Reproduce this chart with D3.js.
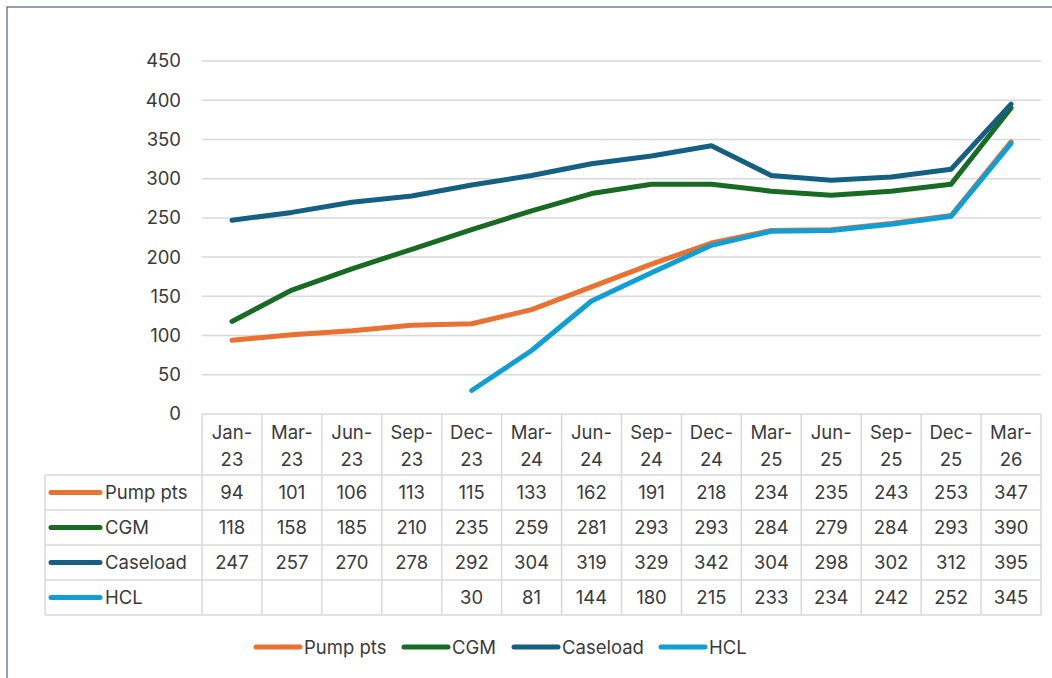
<!DOCTYPE html>
<html><head><meta charset="utf-8">
<script src="https://cdn.jsdelivr.net/npm/d3@7"></script>
<style>body{margin:0;background:#fff}svg{display:block}text{font-family:Inter,"Open Sans",sans-serif;fill:#3a3a3a}</style>
</head><body><svg id="c" width="1052" height="678"></svg>
<script>
const categories = ["Jan-23","Mar-23","Jun-23","Sep-23","Dec-23","Mar-24","Jun-24","Sep-24","Dec-24","Mar-25","Jun-25","Sep-25","Dec-25","Mar-26"];
const pumpPts = [94,101,106,113,115,133,162,191,218,234,235,243,253,347];
const cgm = [118,158,185,210,235,259,281,293,293,284,279,284,293,390];
const caseload = [247,257,270,278,292,304,319,329,342,304,298,302,312,395];
const hcl = [null,null,null,null,30,81,144,180,215,233,234,242,252,345];
const seriesNames = ["Pump pts","CGM","Caseload","HCL"];
const seriesColors = ["#E97132","#196B24","#156082","#0F9ED5"];
const yTicks = [0,50,100,150,200,250,300,350,400,450];
const series = [pumpPts,cgm,caseload,hcl].map((v,i)=>({name:seriesNames[i],color:seriesColors[i],values:v}));

const FS = "18.5px";
const svg = d3.select("#c");
const pLeft=202, pRight=1041, pTop=61, pBottom=414;
const x = d3.scaleBand().domain(categories).range([pLeft,pRight]);
const y = d3.scaleLinear().domain([0,450]).range([pBottom,pTop]);

svg.append("rect").attr("x",7).attr("y",7).attr("width",1200).attr("height",800)
  .attr("fill","none").attr("stroke","#5b6f8a").attr("stroke-width",1.3);

svg.append("g").selectAll("line").data(yTicks.filter(d=>d>0)).join("line")
  .attr("x1",pLeft).attr("x2",pRight).attr("y1",d=>y(d)).attr("y2",d=>y(d))
  .attr("stroke","#d9d9d9").attr("stroke-width",1.5);

const yAxis = d3.axisLeft(y).tickValues(yTicks).tickSize(0).tickPadding(21);
const ga = svg.append("g").attr("transform",`translate(${pLeft},0)`).call(yAxis);
ga.select(".domain").remove();
ga.selectAll("text").style("font-size",FS).attr("fill","#3a3a3a").style("font-family","Inter,'Open Sans',sans-serif");

const rowH = 35, headTop = pBottom, headH = 61, keyLeft = 45;
const tg = svg.append("g");
const gridC = "#d9d9d9";
const nRows = series.length;
const tableBottom = headTop + headH + nRows*rowH;
tg.append("line").attr("x1",pLeft).attr("x2",pRight).attr("y1",headTop).attr("y2",headTop).attr("stroke",gridC).attr("stroke-width",1.5);
for(let r=0;r<=nRows;r++){
  const yy = headTop+headH+r*rowH;
  tg.append("line").attr("x1",keyLeft).attr("x2",pRight).attr("y1",yy).attr("y2",yy).attr("stroke",gridC).attr("stroke-width",1.5);
}
tg.append("line").attr("x1",keyLeft).attr("x2",keyLeft).attr("y1",headTop+headH).attr("y2",tableBottom).attr("stroke",gridC).attr("stroke-width",1.5);
categories.forEach(c=>{
  const xx = x(c);
  tg.append("line").attr("x1",xx).attr("x2",xx).attr("y1",headTop).attr("y2",tableBottom).attr("stroke",gridC).attr("stroke-width",1.5);
});
tg.append("line").attr("x1",pRight).attr("x2",pRight).attr("y1",headTop).attr("y2",tableBottom).attr("stroke",gridC).attr("stroke-width",1.5);

categories.forEach(c=>{
  const cx = x(c)+x.bandwidth()/2;
  const parts = c.split("-");
  const t = tg.append("text").attr("x",cx).attr("text-anchor","middle").style("font-size",FS);
  t.append("tspan").attr("x",cx).attr("y",headTop+25).text(parts[0]+"-");
  t.append("tspan").attr("x",cx).attr("y",headTop+52).text(parts[1]);
});
series.forEach((s,r)=>{
  const cy = headTop+headH+r*rowH+rowH/2;
  tg.append("line").attr("x1",51).attr("x2",100).attr("y1",cy).attr("y2",cy)
    .attr("stroke",s.color).attr("stroke-width",5).attr("stroke-linecap","round");
  tg.append("text").attr("x",105).attr("y",cy+6.5).style("font-size",FS).text(s.name);
  s.values.forEach((v,i)=>{
    if(v==null) return;
    tg.append("text").attr("x",x(categories[i])+x.bandwidth()/2).attr("y",cy+6.5)
      .attr("text-anchor","middle").style("font-size",FS).text(v);
  });
});

const line = d3.line().defined(d=>d.v!=null).x(d=>x(d.c)+x.bandwidth()/2).y(d=>y(d.v));
series.forEach(s=>{
  svg.append("path").datum(s.values.map((v,i)=>({c:categories[i],v})))
    .attr("d",line).attr("fill","none").attr("stroke",s.color).attr("stroke-width",5)
    .attr("stroke-linecap","round").attr("stroke-linejoin","round");
});

const legX = [256,404,514,661];
const legY = 647;
series.forEach((s,i)=>{
  svg.append("line").attr("x1",legX[i]).attr("x2",legX[i]+44).attr("y1",legY).attr("y2",legY)
    .attr("stroke",s.color).attr("stroke-width",5).attr("stroke-linecap","round");
  svg.append("text").attr("x",legX[i]+48).attr("y",legY+7).style("font-size",FS).text(s.name);
});
</script></body></html>
